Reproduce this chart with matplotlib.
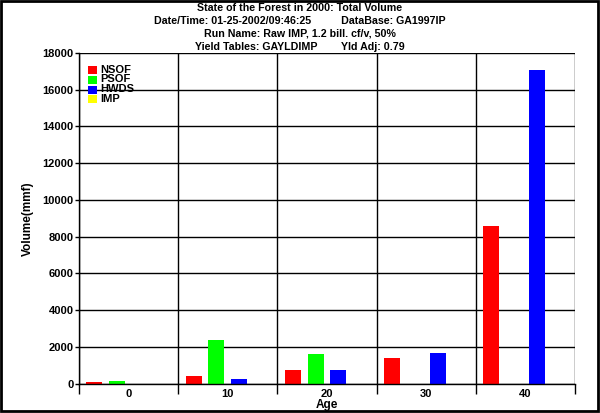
import numpy as np
import matplotlib
matplotlib.use("Agg")
import matplotlib.pyplot as plt
from matplotlib.patches import Rectangle

plt.rcParams['font.family'] = ['Liberation Sans', 'DejaVu Sans']
plt.rcParams['font.weight'] = 'bold'

# data
ages = [0, 10, 20, 30, 40]
series = ["NSOF", "PSOF", "HWDS", "IMP"]
colors = ["#ff0000", "#00ff00", "#0000ff", "#ffff00"]
nsof = [60, 430, 740, 1390, 8600]
psof = [150, 2370, 1610, 0, 0]
hwds = [0, 250, 740, 1660, 17100]
imp = [0, 0, 0, 0, 0]
values = [nsof, psof, hwds, imp]

title_lines = [
    "State of the Forest in 2000: Total Volume",
    "Date/Time: 01-25-2002/09:46:25          DataBase: GA1997IP",
    "Run Name: Raw IMP, 1.2 bill. cf/v, 50%",
    "Yield Tables: GAYLDIMP        Yld Adj: 0.79",
]

W, H = 600, 413
fig = plt.figure(figsize=(W / 100, H / 100), dpi=100)
ax = fig.add_axes([79 / W, 1 - 383.5 / H, 496 / W, 330.5 / H])

x = np.array(ages, dtype=float)
offsets = [-3.45, -1.15, 1.15, 3.45]
for vals, off, c, name in zip(values, offsets, colors, series):
    ax.bar(x + off, vals, width=1.6, color=c, label=name, zorder=2)

ax.set_xlim(-5, 45)
ax.set_ylim(0, 18000)

# grid lines at group boundaries and every 2000
ax.set_xticks(np.arange(-5, 46, 10))
ax.set_xticklabels([])
ax.set_xticks(ages, minor=True)
ax.set_xticklabels([str(a) for a in ages], minor=True, fontsize=8, fontweight='bold')
ax.tick_params(axis='x', which='major', length=7, width=1, direction='out', color='black')
ax.tick_params(axis='x', which='minor', length=0, pad=4)
ax.set_yticks(np.arange(0, 18001, 2000))
ax.set_yticklabels([str(v) for v in range(0, 18001, 2000)], fontsize=8, fontweight='bold')
ax.tick_params(axis='y', length=3, width=1, direction='out', pad=1)
ax.grid(True, which='major', color='black', linewidth=1, zorder=1)
ax.set_axisbelow(True)

for s in ['top', 'right']:
    ax.spines[s].set_visible(False)
ax.spines['left'].set_linewidth(1)
ax.spines['bottom'].set_linewidth(1)

ax.set_ylabel("Volume(mmf)", fontsize=8.5, fontweight='bold', labelpad=6)
ax.set_xlabel("Age", fontsize=8.5, fontweight='bold', labelpad=0)

# legend, drawn by hand to keep the tight spacing of the original
leg_rows = [70, 79.5, 89.5, 99]
for name, c, yy in zip(series, colors, leg_rows):
    fig.patches.append(Rectangle((88 / W, 1 - (yy + 4) / H), 9 / W, 8 / H,
                                 transform=fig.transFigure, facecolor=c,
                                 edgecolor='none', zorder=5))
    fig.text(100 / W, 1 - yy / H, name, ha='left', va='center', fontsize=8,
             fontweight='bold', zorder=6)

ys = [8, 21, 34, 47]
for line, yy in zip(title_lines, ys):
    fig.text(0.5, 1 - yy / H, line, ha='center', va='center', fontsize=7.7, fontweight='bold')

# outer frame of the picture
fig.patches.append(Rectangle((0.002, 0.004), 0.994, 0.993, transform=fig.transFigure,
                             fill=False, edgecolor='black', linewidth=2))

fig.savefig("out.png", dpi=100)
